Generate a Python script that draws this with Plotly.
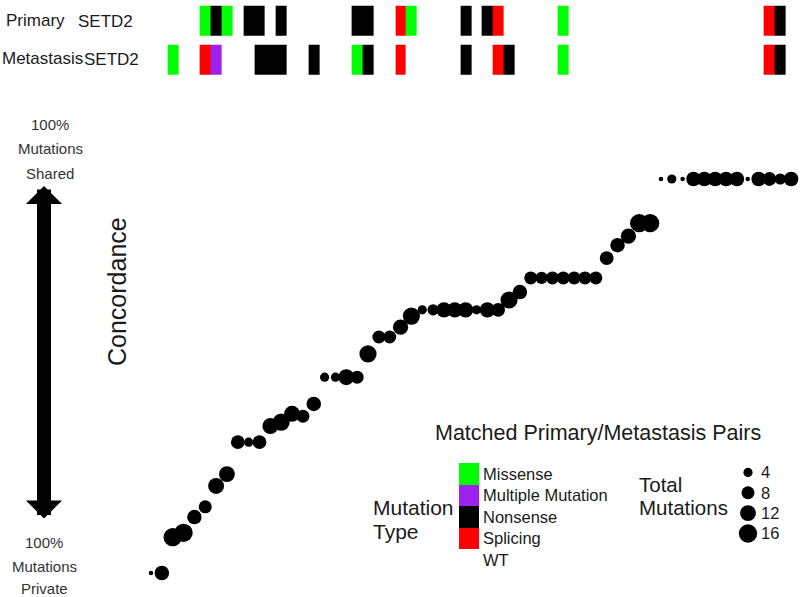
import plotly.graph_objects as go

W, H = 800, 597

# ---------------- data ----------------
mutation_types = ["Missense", "Multiple Mutation", "Nonsense", "Splicing", "WT"]
type_colors = ["#00FF00", "#A020F0", "#000000", "#FF0000", "#FFFFFF"]

row_labels = ["Metastasis", "Primary"]
gene = "SETD2"

primary_type = [
    "WT", "WT", "WT", "WT", "WT", "Missense", "Nonsense", "Missense", "WT", "Nonsense",
    "Nonsense", "WT", "Nonsense", "WT", "WT", "WT", "WT", "WT", "WT", "Nonsense",
    "Nonsense", "WT", "WT", "Splicing", "Missense", "WT", "WT", "WT", "WT", "Nonsense",
    "WT", "Nonsense", "Splicing", "WT", "WT", "WT", "WT", "WT", "Missense", "WT",
    "WT", "WT", "WT", "WT", "WT", "WT", "WT", "WT", "WT", "WT",
    "WT", "WT", "WT", "WT", "WT", "WT", "WT", "Splicing", "Nonsense", "WT",
]
metastasis_type = [
    "WT", "WT", "Missense", "WT", "WT", "Splicing", "Multiple Mutation", "WT", "WT", "WT",
    "Nonsense", "Nonsense", "Nonsense", "WT", "WT", "Nonsense", "WT", "WT", "WT", "Missense",
    "Nonsense", "WT", "WT", "Splicing", "WT", "WT", "WT", "WT", "WT", "Nonsense",
    "WT", "WT", "Splicing", "Nonsense", "WT", "WT", "WT", "WT", "Missense", "WT",
    "WT", "WT", "WT", "WT", "WT", "WT", "WT", "WT", "WT", "WT",
    "WT", "WT", "WT", "WT", "WT", "WT", "WT", "Splicing", "Nonsense", "WT",
]

concordance = [
    0, 0, 9.1, 10.2, 14.2, 16.8, 22.1, 25.1, 33.2, 33.2,
    33.2, 37.3, 38.3, 40.4, 39.8, 42.9, 49.7, 49.7, 49.7, 49.7,
    55.6, 59.9, 59.9, 62.4, 65.2, 66.8, 66.8, 66.8, 66.8, 66.8,
    66.8, 66.8, 66.8, 69.3, 71.3, 74.9, 74.9, 74.9, 74.9, 74.9,
    74.9, 74.9, 79.9, 83.2, 85.5, 88.8, 88.8, 100, 100, 100,
    100, 100, 100, 100, 100, 100, 100, 100, 100, 100,
]
total_mutations = [
    1, 10, 16, 16, 10, 8, 12, 12, 9, 4,
    9, 12, 14, 12, 8, 10, 4, 4, 12, 8,
    14, 8, 8, 11, 14, 4, 6, 11, 11, 11,
    4, 11, 9, 14, 10, 8, 7, 8, 8, 8,
    8, 8, 9, 10, 11, 16, 16, 1, 4, 1,
    10, 10, 10, 10, 10, 1, 10, 9, 6, 10,
]
size_breaks = [4, 8, 12, 16]

# ---------------- helpers ----------------
def px(xp):
    return xp / W

def py(yp):
    return 1 - yp / H

FONT = "Liberation Sans, Arial, sans-serif"
SIZEREF = 0.095

pairs = list(range(len(concordance)))
code = {t: i for i, t in enumerate(mutation_types)}
z_tiles = [[code[t] for t in metastasis_type], [code[t] for t in primary_type]]

n = len(mutation_types)
cscale = []
for i, c in enumerate(type_colors):
    cscale.append([i / n, c])
    cscale.append([(i + 1) / n, c])

fig = go.Figure()

# tiles
fig.add_trace(go.Heatmap(
    z=z_tiles, x=pairs, y=row_labels, xaxis="x", yaxis="y2",
    colorscale=cscale, zmin=-0.5, zmax=n - 0.5, showscale=False,
    ygap=9, hoverinfo="skip"))

# concordance scatter
fig.add_trace(go.Scatter(
    x=pairs, y=concordance, mode="markers", xaxis="x", yaxis="y",
    marker=dict(color="black", size=total_mutations, sizemode="area",
                sizeref=SIZEREF, sizemin=0, opacity=1, line=dict(width=0)),
    showlegend=False, hoverinfo="skip"))

# mutation type key
fig.add_trace(go.Heatmap(
    z=[[code[t]] for t in mutation_types], x=[0], y=mutation_types,
    xaxis="x3", yaxis="y3", colorscale=cscale, zmin=-0.5, zmax=n - 0.5,
    showscale=False, hoverinfo="skip"))

# size key
size_labels = [str(s) for s in size_breaks]
fig.add_trace(go.Scatter(
    x=[0] * len(size_breaks), y=size_labels, mode="markers",
    xaxis="x4", yaxis="y4",
    marker=dict(color="black", size=size_breaks, sizemode="area",
                sizeref=SIZEREF, opacity=1, line=dict(width=0)),
    showlegend=False, hoverinfo="skip"))

hidden = dict(showgrid=False, zeroline=False, showticklabels=False,
              showline=False, ticks="")

col_px = 10.85
x0_px = 151
left_px = 136
fig.update_layout(
    width=W, height=H, margin=dict(l=0, r=0, t=0, b=0),
    paper_bgcolor="white", plot_bgcolor="white", showlegend=False,
    font=dict(family=FONT, color="#1a1a1a"),
    xaxis=dict(domain=[px(left_px), 1],
               range=[-(x0_px - left_px) / col_px, (W - x0_px) / col_px],
               anchor="y", **hidden),
    yaxis=dict(domain=[0, 0.75],
               range=[-(597 - 573) / 3.94, 100 + (179 - (597 - 0.75 * 597)) / 3.94],
               anchor="x", **hidden),
    yaxis2=dict(domain=[py(80.1), py(1.7)], type="category",
                categoryarray=row_labels, range=[-0.5, 1.5], anchor="x", **hidden),
    xaxis3=dict(domain=[px(459), px(479)], range=[-0.5, 0.5], anchor="y3", **hidden),
    yaxis3=dict(domain=[py(570.5), py(463)], type="category",
                categoryarray=mutation_types, autorange="reversed", anchor="x3",
                tickmode="array", tickvals=mutation_types, ticktext=mutation_types,
                side="right", showgrid=False, zeroline=False, showline=False,
                ticks="", ticklabelstandoff=3,
                tickfont=dict(size=16.5, color="#1a1a1a", family=FONT)),
    xaxis4=dict(domain=[px(738), px(758)], range=[-0.5, 0.5], anchor="y4", **hidden),
    yaxis4=dict(domain=[py(548), py(463)], type="category",
                categoryarray=size_labels, autorange="reversed",
                tickmode="array", tickvals=size_labels, ticktext=size_labels,
                anchor="x4", side="right", showgrid=False, zeroline=False,
                showline=False, ticks="", ticklabelstandoff=2,
                tickfont=dict(size=16.5, color="#1a1a1a", family=FONT)),
)

ann = []

def text(t, x, y, size, xanchor="center", color="#333333", angle=0):
    ann.append(dict(text=t, x=px(x), y=py(y), xref="paper", yref="paper",
                    xanchor=xanchor, yanchor="middle", showarrow=False,
                    textangle=angle, font=dict(size=size, color=color, family=FONT)))

# row labels
text(row_labels[1], 4, 20, 17, "left", "#1a1a1a")
text(gene, 76, 21, 17, "left", "#1a1a1a")
text(row_labels[0], 0, 59, 17, "left", "#1a1a1a")
text(gene, 82, 60, 17, "left", "#1a1a1a")

# axis annotations
for t, yy in zip(["100%", "Mutations", "Shared"], [125, 149, 173]):
    text(t, 50, yy, 15)
for t, yy in zip(["100%", "Mutations", "Private"], [542, 566, 588]):
    text(t, 44, yy, 15)
text("Concordance", 117, 292, 25, angle=-90, color="#1a1a1a")

# legend titles
text("Matched Primary/Metastasis Pairs", 598, 433, 21.5, color="#1a1a1a")
text("Mutation", 371, 507, 21, "left", "#1a1a1a")
text("Type", 371, 531, 21, "left", "#1a1a1a")
text("Total", 637, 484, 20.5, "left", "#1a1a1a")
text("Mutations", 637, 508, 20.5, "left", "#1a1a1a")

# double-headed arrow
ann.append(dict(x=px(44), y=py(186), xref="paper", yref="paper",
                ax=0, ay=334, text="", showarrow=True,
                arrowhead=1, startarrowhead=1, arrowside="end+start",
                arrowwidth=14, arrowsize=0.43, startarrowsize=0.43,
                arrowcolor="black"))

fig.update_layout(annotations=ann)
fig.write_html("out.html", config={"displayModeBar": False},
               post_script="document.body.style.margin='0px';")
